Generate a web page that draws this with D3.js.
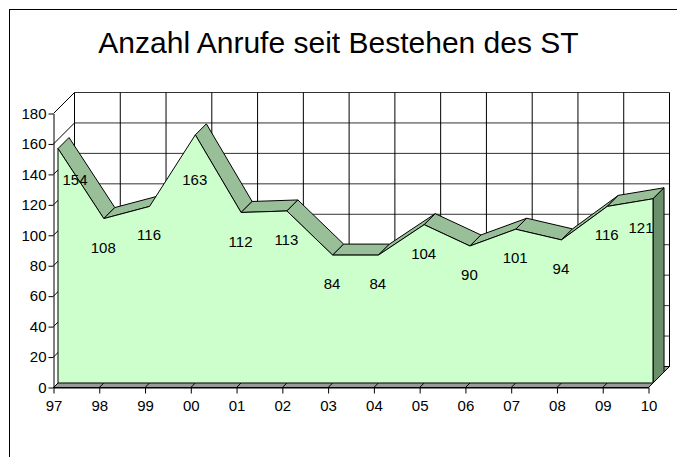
<!DOCTYPE html>
<html><head><meta charset="utf-8">
<script src="https://cdn.jsdelivr.net/npm/d3@7"></script>
<style>body{margin:0;background:#fff}svg{display:block}text{font-family:"Liberation Sans",Arial,sans-serif}</style>
</head><body>
<svg id="c" width="677" height="457"></svg>
<script>
const title = "Anzahl Anrufe seit Bestehen des ST";
const years = ["97","98","99","00","01","02","03","04","05","06","07","08","09","10"];
const calls = [154,108,116,163,112,113,84,84,104,90,101,94,116,121];
const yTicks = [0,20,40,60,80,100,120,140,160,180];

const svg = d3.select("#c");
const DX = 21, DY = -21;       // depth of the 3D box
const F1 = 0.215, F2 = 0.74;    // series front/back depth fractions

const x = d3.scalePoint().domain(years).range([53.5, 648.5]);
const y = d3.scaleLinear().domain([0, 180]).range([387.5, 113.5]);
const yMax = 180;

// outer frame
svg.append("rect").attr("x", 9.5).attr("y", 9.5).attr("width", 700).attr("height", 500)
  .attr("fill", "none").attr("stroke", "#000");

svg.append("text").attr("x", 338.5).attr("y", 53).attr("text-anchor", "middle")
  .attr("font-size", 30).text(title);

const x0 = x(years[0]), x1 = x(years[years.length - 1]);
const g = svg.append("g");

// back wall
g.append("rect").attr("x", x0 + DX).attr("y", y(yMax) + DY)
  .attr("width", x1 - x0).attr("height", y(0) - y(yMax)).attr("fill", "#fff");
g.selectAll(".hgrid").data(yTicks).join("line")
  .attr("x1", x0 + DX).attr("x2", x1 + DX)
  .attr("y1", d => y(d) + DY).attr("y2", d => y(d) + DY)
  .attr("stroke", "#333");
g.selectAll(".vgrid").data(years).join("line")
  .attr("x1", d => x(d) + DX).attr("x2", d => x(d) + DX)
  .attr("y1", y(yMax) + DY).attr("y2", y(0) + DY)
  .attr("stroke", "#000");
// side wall gridlines
g.selectAll(".sgrid").data(yTicks).join("line")
  .attr("x1", x0).attr("x2", x0 + DX)
  .attr("y1", d => y(d)).attr("y2", d => y(d) + DY)
  .attr("stroke", "#000");
// floor
g.append("path")
  .attr("d", `M${x0},${y(0)}L${x1},${y(0)}L${x1 + DX},${y(0) + DY}L${x0 + DX},${y(0) + DY}Z`)
  .attr("fill", "#999").attr("stroke", "#000");
g.selectAll(".fgrid").data(years).join("line")
  .attr("x1", d => x(d)).attr("x2", d => x(d) + DX)
  .attr("y1", y(0)).attr("y2", y(0) + DY)
  .attr("stroke", "#000");

// series
const pts = years.map((yr, i) => ({ x: x(yr), v: calls[i] }));
const P = (p, f) => [p.x + f * DX, y(p.v) + f * DY];
const ribbons = d3.pairs(pts).filter(([a, b]) => {
  const dx = b.x - a.x, dy = y(b.v) - y(a.v);
  return dx + dy > 0;
});
g.selectAll(".rib").data(ribbons).join("path")
  .attr("d", ([a, b]) => "M" + [P(a, F1), P(b, F1), P(b, F2), P(a, F2)].join("L") + "Z")
  .attr("fill", "#99bf99").attr("stroke", "#000").attr("stroke-linejoin", "round");
const last = pts[pts.length - 1];
g.append("path")
  .attr("d", "M" + [P(last, F1), P(last, F2),
    [last.x + F2 * DX, y(0) + F2 * DY], [last.x + F1 * DX, y(0) + F1 * DY]].join("L") + "Z")
  .attr("fill", "#6b8f6b").attr("stroke", "#000");
const area = d3.area().x(d => d.x + F1 * DX).y0(y(0) + F1 * DY).y1(d => y(d.v) + F1 * DY);
g.append("path").datum(pts).attr("d", area)
  .attr("fill", "#ccffcc").attr("stroke", "#000").attr("stroke-linejoin", "round");

// axes
const ax = svg.append("g").attr("transform", `translate(${x0},0)`)
  .call(d3.axisLeft(y).tickValues(yTicks).tickSize(5).tickSizeOuter(0).tickPadding(2));
const bx = svg.append("g").attr("transform", `translate(0,${y(0)})`)
  .call(d3.axisBottom(x).tickSize(6).tickSizeOuter(0).tickPadding(7));
[ax, bx].forEach(a => {
  a.selectAll("text").attr("font-size", 15).attr("font-family", "Liberation Sans, Arial, sans-serif").attr("fill", "#000");
  a.selectAll("line,path").attr("stroke", "#000");
});

// data labels
svg.append("g").selectAll("text").data(pts).join("text")
  .attr("x", d => Math.min(Math.max(d.x + 4, 75), 641))
  .attr("y", d => Math.max(y(d.v) + 24, 179) + 5.5)
  .attr("text-anchor", "middle").attr("font-size", 15)
  .text(d => d.v);
</script>
</body></html>
